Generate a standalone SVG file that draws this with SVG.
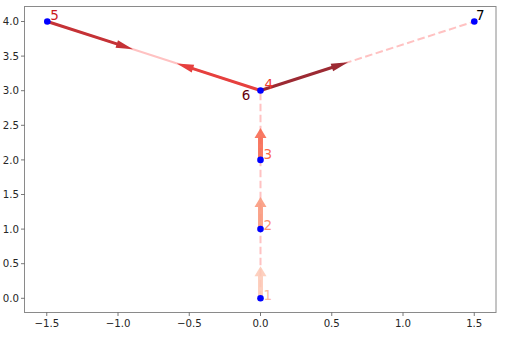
<svg xmlns="http://www.w3.org/2000/svg" width="509" height="339" viewBox="0 0 509 339">
<style>
.tick{stroke:#555;stroke-width:0.8}
.tl{font-family:"DejaVu Sans",sans-serif;font-size:10.2px;fill:#262626}
.lbl{font-family:"DejaVu Sans",sans-serif;font-size:13.5px}
.pt{fill:#0000ff}
.dash{fill:none;stroke:#ffc2c2;stroke-width:2;stroke-dasharray:7.5 3.5}
.solid{fill:none;stroke:#ffc2c2;stroke-width:2}
</style>
<defs>
<path id="vArrow" d="M0,-2.5 H22 V-6 L32,0 L22,6 V2.5 H0 Z"/>
</defs>
<rect width="509" height="339" fill="#ffffff"/>
<g id="axes">
<rect x="24.5" y="6.5" width="471.5" height="306" fill="none" stroke="#8a8a8a" stroke-width="1"/>
<g class="tick">
<line x1="46.75" y1="312.5" x2="46.75" y2="316"/>
<line x1="118" y1="312.5" x2="118" y2="316"/>
<line x1="189.25" y1="312.5" x2="189.25" y2="316"/>
<line x1="260.5" y1="312.5" x2="260.5" y2="316"/>
<line x1="331.75" y1="312.5" x2="331.75" y2="316"/>
<line x1="403" y1="312.5" x2="403" y2="316"/>
<line x1="474.25" y1="312.5" x2="474.25" y2="316"/>
<line x1="21" y1="298.3" x2="24.5" y2="298.3"/>
<line x1="21" y1="263.7" x2="24.5" y2="263.7"/>
<line x1="21" y1="229.1" x2="24.5" y2="229.1"/>
<line x1="21" y1="194.5" x2="24.5" y2="194.5"/>
<line x1="21" y1="159.9" x2="24.5" y2="159.9"/>
<line x1="21" y1="125.3" x2="24.5" y2="125.3"/>
<line x1="21" y1="90.7" x2="24.5" y2="90.7"/>
<line x1="21" y1="56.1" x2="24.5" y2="56.1"/>
<line x1="21" y1="21.5" x2="24.5" y2="21.5"/>
</g>
<g class="tl" text-anchor="middle">
<text x="46.75" y="326.7">−1.5</text>
<text x="118" y="326.7">−1.0</text>
<text x="189.25" y="326.7">−0.5</text>
<text x="260.5" y="326.7">0.0</text>
<text x="331.75" y="326.7">0.5</text>
<text x="403" y="326.7">1.0</text>
<text x="474.25" y="326.7">1.5</text>
</g>
<g class="tl" text-anchor="end">
<text x="19" y="301.9">0.0</text>
<text x="19" y="267.3">0.5</text>
<text x="19" y="232.7">1.0</text>
<text x="19" y="198.1">1.5</text>
<text x="19" y="163.5">2.0</text>
<text x="19" y="128.9">2.5</text>
<text x="19" y="94.3">3.0</text>
<text x="19" y="59.7">3.5</text>
<text x="19" y="25.1">4.0</text>
</g>
</g>
<g id="connectors">
<line class="dash" x1="260.5" y1="298.3" x2="260.5" y2="90.5"/>
<line class="dash" x1="260.5" y1="90.5" x2="474.3" y2="21.5"/>
<line class="solid" x1="47.3" y1="21.5" x2="260.5" y2="90.5"/>
<use href="#vArrow" transform="translate(260.5,298.3) rotate(-90)" fill="#fdc8b4" opacity="0.85"/>
<use href="#vArrow" transform="translate(260.5,229.1) rotate(-90)" fill="#fa9a7e" opacity="0.9"/>
<use href="#vArrow" transform="translate(260.5,159.9) rotate(-90)" fill="#f76a52" opacity="0.9"/>
<path d="M0,-1.5 H73 V-4 L90,0 L73,4 V1.5 H0 Z" transform="translate(47.3,21.5) rotate(17.9)" fill="#c53236"/>
<path d="M0,-1.5 H71 V-4 L88,0 L71,4 V1.5 H0 Z" transform="translate(260.5,90.5) rotate(197.9)" fill="#e6403e"/>
<path d="M0,-1.5 H75 V-4 L92,0 L75,4 V1.5 H0 Z" transform="translate(260.5,90.5) rotate(-17.85)" fill="#9c2a33"/>
</g>
<g id="n1"><circle class="pt" cx="260.5" cy="298.3" r="3.3"/><text class="lbl" x="263.5" y="299.5" fill="#fcbba1">1</text></g>
<g id="n2"><circle class="pt" cx="260.5" cy="229.1" r="3.3"/><text class="lbl" x="263.5" y="230" fill="#fc9272">2</text></g>
<g id="n3"><circle class="pt" cx="260.5" cy="159.9" r="3.3"/><text class="lbl" x="263.5" y="158.8" fill="#fb6a4a">3</text></g>
<g id="n4"><circle class="pt" cx="260.5" cy="90.5" r="3.3"/><text class="lbl" x="264.5" y="89" fill="#ef3b2c">4</text></g>
<g id="n5"><circle class="pt" cx="47.3" cy="21.5" r="3.3"/><text class="lbl" x="50.3" y="20.2" fill="#cb181d">5</text></g>
<g id="n6"><text class="lbl" x="241.8" y="100.2" fill="#67000d">6</text></g>
<g id="n7"><circle class="pt" cx="474.3" cy="21.5" r="3.3"/><text class="lbl" x="476" y="20.2" fill="#000000">7</text></g>
</svg>
